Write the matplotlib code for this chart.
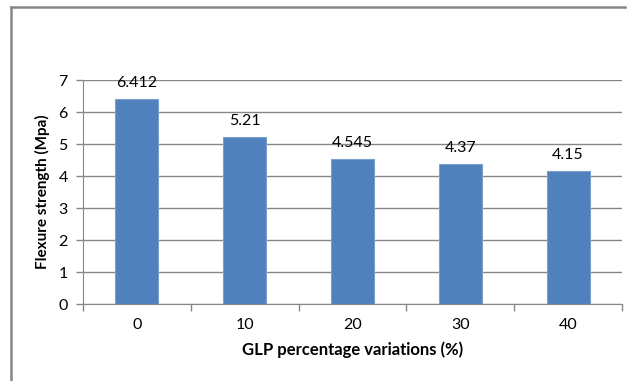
import matplotlib
matplotlib.use("Agg")
import matplotlib.pyplot as plt
from matplotlib.lines import Line2D

categories = ["0", "10", "20", "30", "40"]
values = [6.412, 5.21, 4.545, 4.37, 4.15]
value_labels = ["6.412", "5.21", "4.545", "4.37", "4.15"]
yticks = [0, 1, 2, 3, 4, 5, 6, 7]

plt.rcParams['font.family'] = ['Lato', 'DejaVu Sans']

fig = plt.figure(figsize=(6.28, 3.81), dpi=100)
ax = fig.add_axes([83/628, 1-304/381, (622-83)/628, (304-80)/381])

x = list(range(len(categories)))
ax.bar(x, values, width=0.4, color="#4F81BD", edgecolor="#7BA0CD", linewidth=0.8, zorder=3)
for xi, v, lab in zip(x, values, value_labels):
    ax.annotate(lab, (xi, v), xytext=(0, 6.5), textcoords="offset points",
                ha="center", va="bottom", fontsize=11.5, color="#000000")

ax.set_xlim(-0.5, len(categories) - 0.5)
ax.set_ylim(0, 7)
ax.set_yticks(yticks)
ax.set_yticklabels([str(t) for t in yticks], fontsize=11.5)
ax.set_xticks(x)
ax.set_xticklabels(categories, fontsize=11.5)
ax.set_xticks([i - 0.5 for i in range(len(categories) + 1)], minor=True)
ax.tick_params(axis="x", which="major", length=0, pad=10)
ax.tick_params(axis="x", which="minor", length=5, color="#868686", width=1)
ax.tick_params(axis="y", length=5, color="#868686", width=1, pad=6)
ax.grid(axis="y", color="#868686", linewidth=1, zorder=0)
for s in ["top", "right"]:
    ax.spines[s].set_visible(False)
ax.spines["left"].set_color("#868686")
ax.spines["bottom"].set_color("#868686")

ax.set_ylabel("Flexure strength (Mpa)", fontsize=11, fontweight="bold", labelpad=6)
ax.set_xlabel("GLP percentage variations (%)", fontsize=12, fontweight="bold", labelpad=7)

# outer chart-area border (partially visible)
fig.add_artist(Line2D([11/628, 11/628], [0, 1-6.5/381], transform=fig.transFigure, color="#868686", linewidth=1.8))
fig.add_artist(Line2D([11/628, 625/628], [1-6.5/381, 1-6.5/381], transform=fig.transFigure, color="#868686", linewidth=1.8))

fig.savefig("out.png", dpi=100)
